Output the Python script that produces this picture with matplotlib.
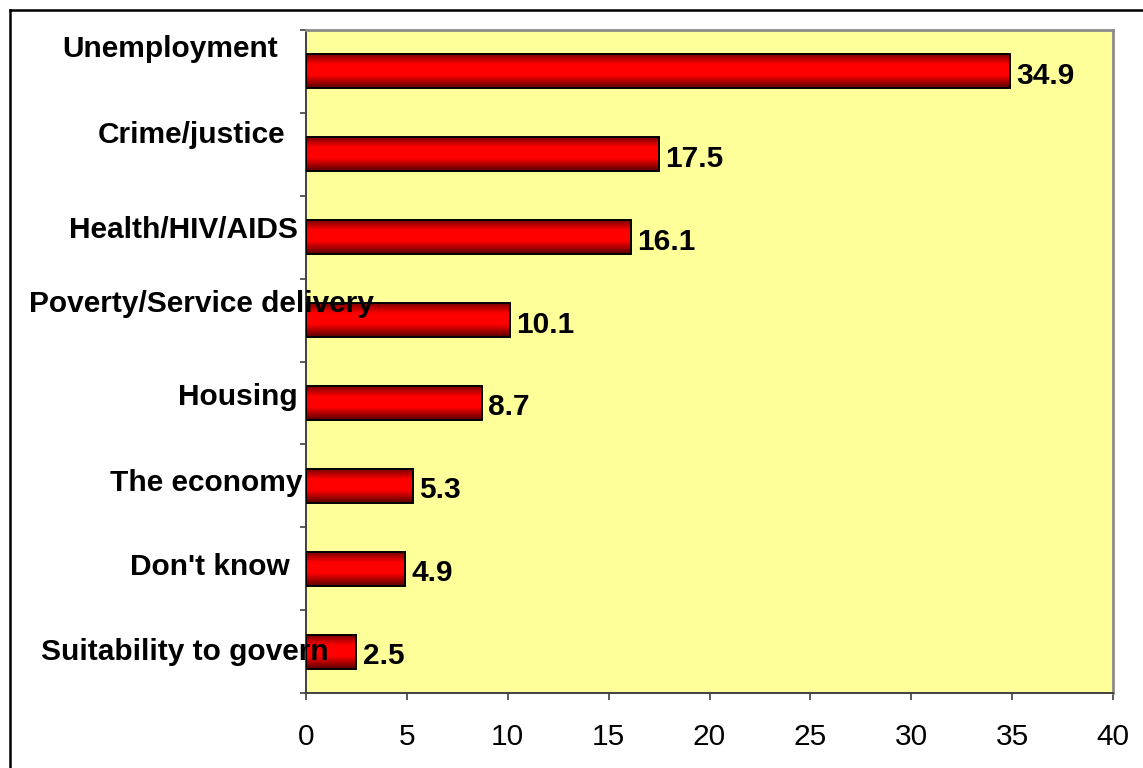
import numpy as np
import matplotlib
matplotlib.use("Agg")
import matplotlib.pyplot as plt
from matplotlib.colors import LinearSegmentedColormap
from matplotlib.patches import Rectangle
from matplotlib.lines import Line2D

# Most important problems facing the country (%)
categories = [
    "Unemployment",
    "Crime/justice",
    "Health/HIV/AIDS",
    "Poverty/Service delivery",
    "Housing",
    "The economy",
    "Don't know",
    "Suitability to govern",
]
values = [34.9, 17.5, 16.1, 10.1, 8.7, 5.3, 4.9, 2.5]
xticks = [0, 5, 10, 15, 20, 25, 30, 35, 40]

# category label anchors in pixels from the top-left: (right edge, baseline)
label_anchor_px = [
    (278, 57), (285, 143), (298, 238), (374, 312),
    (298, 405), (303, 491), (290, 575), (329, 660),
]

W, H = 1143, 768
FONT = "Liberation Sans"
FS = 21.5

plt.rcParams["font.family"] = [FONT, "DejaVu Sans"]

fig = plt.figure(figsize=(W / 100, H / 100), dpi=100)
fig.patch.set_facecolor("white")
ax = fig.add_axes([306 / W, 1 - 693 / H, 807 / W, 663 / H])
ax.set_facecolor("#ffff99")

n = len(categories)
ypos = np.arange(n)[::-1]
bar_h = 0.41

# shaded red, darker at the top and bottom edges
cmap = LinearSegmentedColormap.from_list(
    "cyl", [(0.0, "#7a0000"), (0.3, "#ff0000"), (0.62, "#ff0000"), (1.0, "#580000")]
)
grad = np.linspace(0, 1, 256).reshape(-1, 1)

for y, v in zip(ypos, values):
    rect = Rectangle((0, y - bar_h / 2), v, bar_h, facecolor="none",
                     edgecolor="black", lw=1.4, zorder=3)
    im = ax.imshow(grad, cmap=cmap, aspect="auto", origin="upper",
                   extent=[0, v, y - bar_h / 2, y + bar_h / 2], zorder=2,
                   interpolation="bilinear")
    ax.add_patch(rect)
    im.set_clip_path(rect)
    ax.annotate(f"{v:.1f}", xy=(v, y), xytext=(4.5, -9),
                textcoords="offset points", ha="left", va="baseline",
                fontsize=FS, fontweight="bold", zorder=4)

ax.set_xlim(0, 40)
ax.set_ylim(-0.5, n - 0.5)
ax.set_xticks(xticks)
ax.set_xticklabels([str(t) for t in xticks], fontsize=FS)
ax.set_yticks(np.arange(n + 1) - 0.5)
ax.set_yticklabels([])
ax.tick_params(axis="x", direction="out", length=5, width=1.2,
               color="#404040", pad=16.5)
ax.tick_params(axis="y", direction="out", length=4.5, width=1.2,
               color="#404040")

for side in ("left", "bottom"):
    ax.spines[side].set_color("#404040")
    ax.spines[side].set_linewidth(1.4)
for side in ("top", "right"):
    ax.spines[side].set_color("#8c8c8c")
    ax.spines[side].set_linewidth(2)

# category labels, drawn over the plot area where they run long
for name, (px, py) in zip(categories, label_anchor_px):
    fig.text(px / W, 1 - py / H, name, ha="right", va="baseline",
             fontsize=FS, fontweight="bold", zorder=10)

# frame around the chart
fig.add_artist(Line2D([10 / W, 10 / W], [1 - 10 / H, 0], color="black", lw=1.8))
fig.add_artist(Line2D([10 / W, 1], [1 - 10 / H, 1 - 10 / H], color="black", lw=1.8))

fig.savefig("out.png", dpi=100)
